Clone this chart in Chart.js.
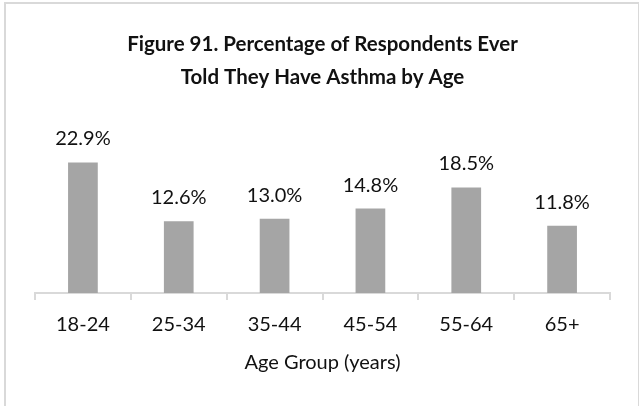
<!DOCTYPE html>
<html>
<head>
<meta charset="utf-8">
<script src="https://cdn.jsdelivr.net/npm/chart.js@4"></script>
<style>
  body { margin: 0; background: #fff; }
  #frame {
    position: absolute;
    left: 4px;
    top: 2px;
    width: 632px;
    height: 420px;
    border: 2px solid #d9d9d9;
  }
  #wrap { position: absolute; left: 0; top: 0; width: 639px; height: 406px; }
</style>
</head>
<body>
<div id="frame"></div>
<div id="wrap"><canvas id="chart" width="639" height="406"></canvas></div>
<script>
const ageGroups = ["18-24", "25-34", "35-44", "45-54", "55-64", "65+"];
const asthmaPct = [22.9, 12.6, 13.0, 14.8, 18.5, 11.8];
const titleLines = ["Figure 91. Percentage of Respondents Ever", "Told They Have Asthma by Age"];
const xTitle = "Age Group (years)";

// draws the value above each bar
const barLabels = {
  id: "barLabels",
  afterDatasetsDraw(chart) {
    const ctx = chart.ctx;
    const meta = chart.getDatasetMeta(0);
    ctx.save();
    ctx.font = "20px Lato";
    ctx.fillStyle = "#111";
    ctx.textAlign = "center";
    ctx.textBaseline = "alphabetic";
    meta.data.forEach((bar, i) => {
      ctx.fillText(asthmaPct[i].toFixed(1) + "%", bar.x, bar.y - 17);
    });
    ctx.restore();
  },
};

const ctx = document.getElementById("chart").getContext("2d");

new Chart(ctx, {
  type: "bar",
  data: {
    labels: ageGroups,
    datasets: [
      {
        data: asthmaPct,
        backgroundColor: "#a5a5a5",
        barPercentage: 0.31,
        categoryPercentage: 1,
      },
    ],
  },
  options: {
    responsive: false,
    animation: false,
    layout: {
      padding: { left: 35, right: 29, top: 0, bottom: 31 },
    },
    plugins: {
      legend: { display: false },
      tooltip: { enabled: false },
      title: {
        display: true,
        text: titleLines,
        color: "#111",
        font: { family: "Lato", size: 20.5, weight: "bold", lineHeight: 1.62 },
        padding: { top: 28, bottom: 56 },
      },
    },
    scales: {
      y: {
        display: false,
        min: 0,
        max: 25,
      },
      x: {
        grid: {
          drawOnChartArea: false,
          drawTicks: true,
          tickLength: 7,
          color: "#d9d9d9",
          lineWidth: 2,
        },
        border: { color: "#d9d9d9", width: 2 },
        ticks: {
          color: "#111",
          font: { family: "Lato", size: 20 },
          padding: 13,
        },
        title: {
          display: true,
          text: xTitle,
          color: "#111",
          font: { family: "Lato", size: 20 },
          padding: { top: 1, bottom: 0 },
        },
      },
    },
  },
  plugins: [barLabels],
});
</script>
</body>
</html>
